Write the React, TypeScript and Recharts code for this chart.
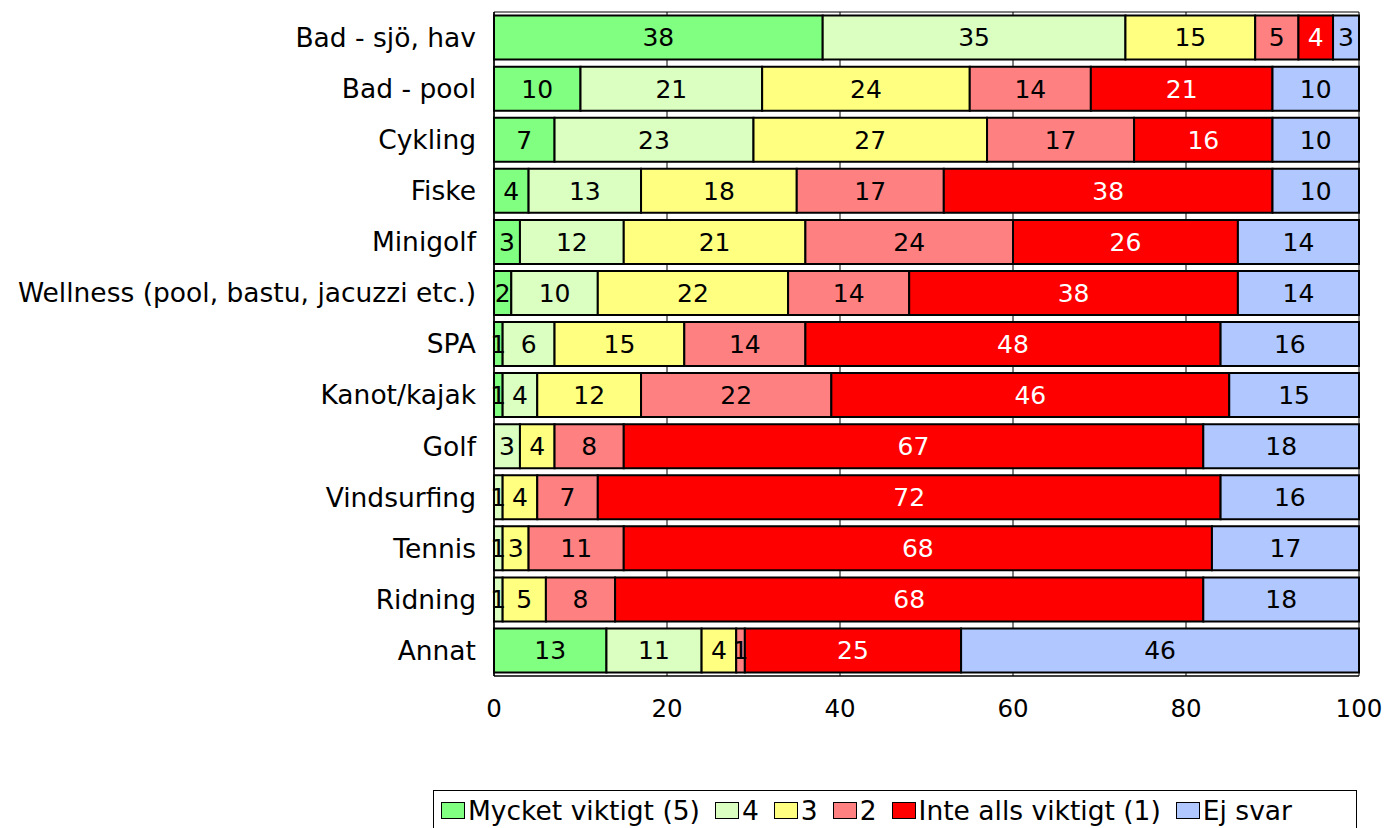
import { BarChart, Bar, XAxis, YAxis, CartesianGrid, LabelList, Legend } from "recharts";

const categories = [
  "Bad - sjö, hav",
  "Bad - pool",
  "Cykling",
  "Fiske",
  "Minigolf",
  "Wellness (pool, bastu, jacuzzi etc.)",
  "SPA",
  "Kanot/kajak",
  "Golf",
  "Vindsurfing",
  "Tennis",
  "Ridning",
  "Annat",
];

const mycket = [38, 10, 7, 4, 3, 2, 1, 1, 0, 0, 0, 0, 13];
const fyra = [35, 21, 23, 13, 12, 10, 6, 4, 3, 1, 1, 1, 11];
const tre = [15, 24, 27, 18, 21, 22, 15, 12, 4, 4, 3, 5, 4];
const tva = [5, 14, 17, 17, 24, 14, 14, 22, 8, 7, 11, 8, 1];
const inteAlls = [4, 21, 16, 38, 26, 38, 48, 46, 67, 72, 68, 68, 25];
const ejSvar = [3, 10, 10, 10, 14, 14, 16, 15, 18, 16, 17, 18, 46];

const xTicks = [0, 20, 40, 60, 80, 100];

const series = [
  { key: "s5", name: "Mycket viktigt (5)", values: mycket, color: "#80ff80", text: "#000" },
  { key: "s4", name: "4", values: fyra, color: "#daffc0", text: "#000" },
  { key: "s3", name: "3", values: tre, color: "#ffff80", text: "#000" },
  { key: "s2", name: "2", values: tva, color: "#ff8080", text: "#000" },
  { key: "s1", name: "Inte alls viktigt (1)", values: inteAlls, color: "#ff0000", text: "#fff" },
  { key: "ej", name: "Ej svar", values: ejSvar, color: "#b0c8ff", text: "#000" },
];

const data = categories.map((name, i) => {
  const row: Record<string, string | number | null> = { name };
  series.forEach((s) => {
    row[s.key] = s.values[i] === 0 ? null : s.values[i];
  });
  return row;
});

const FONT = "'DejaVu Sans', Verdana, sans-serif";

function LegendBox() {
  return (
    <div
      style={{
        border: "1.5px solid #000",
        borderBottom: "none",
        height: 40,
        display: "flex",
        alignItems: "center",
        paddingLeft: 7,
        fontFamily: FONT,
        fontSize: 26.5,
        color: "#000",
        boxSizing: "border-box",
        whiteSpace: "nowrap",
      }}
    >
      {series.map((s) => (
        <div key={s.key} style={{ display: "flex", alignItems: "center", marginRight: 15 }}>
          <span
            style={{
              display: "inline-block",
              width: 22,
              height: 15,
              background: s.color,
              border: "1.5px solid #000",
              marginRight: 3,
            }}
          />
          <span>{s.name}</span>
        </div>
      ))}
    </div>
  );
}

export default function App() {
  return (
    <div style={{ position: "absolute", left: 0, top: 0, width: 1389, height: 828, background: "#fff" }}>
      <BarChart
        width={1389}
        height={828}
        data={data}
        layout="vertical"
        margin={{ top: 12, right: 30, bottom: 122, left: 0 }}
        barCategoryGap="7%"
      >
        <CartesianGrid
          horizontal={true}
          vertical={true}
          horizontalPoints={[12]}
          stroke="#000"
          strokeWidth={1}
        />
        <XAxis
          type="number"
          domain={[0, 100]}
          ticks={xTicks}
          interval={0}
          height={30}
          axisLine={{ stroke: "#000", strokeWidth: 1.5 }}
          tickLine={false}
          tickMargin={18}
          tick={{ fill: "#000", fontSize: 24.5, fontFamily: FONT }}
        />
        <YAxis
          type="category"
          dataKey="name"
          width={494}
          interval={0}
          axisLine={{ stroke: "#000", strokeWidth: 1.5 }}
          tickLine={false}
          tickSize={0}
          tickMargin={18}
          tick={{ fill: "#000", fontSize: 26.5, fontFamily: FONT }}
        />
        <Legend
          layout="horizontal"
          verticalAlign="middle"
          align="center"
          content={() => <LegendBox />}
          wrapperStyle={{ left: 433, top: 790, width: 924, bottom: "auto" }}
        />
        {series.map((s) => (
          <Bar
            key={s.key}
            dataKey={s.key}
            name={s.name}
            stackId="a"
            fill={s.color}
            stroke="#000"
            strokeWidth={2}
            isAnimationActive={false}
          >
            <LabelList
              dataKey={s.key}
              position="center"
              fill={s.text}
              style={{ fontSize: 25, fontFamily: FONT }}
            />
          </Bar>
        ))}
      </BarChart>
    </div>
  );
}
